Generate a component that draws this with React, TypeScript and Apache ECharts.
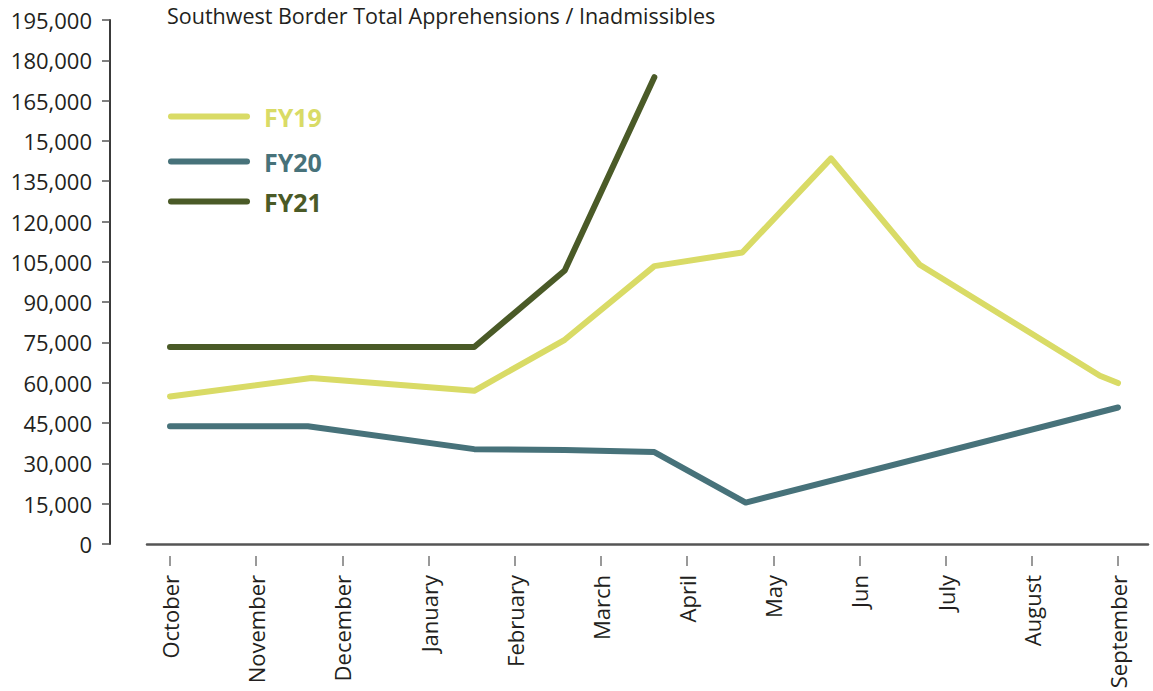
import React, { useEffect, useRef } from "react";
import * as echarts from "echarts";

const months = ["October", "November", "December", "January", "February", "March", "April", "May", "Jun", "July", "August", "September"];
const yTickLabels = ["0", "15,000", "30,000", "45,000", "60,000", "75,000", "90,000", "105,000", "120,000", "135,000", "15,000", "165,000", "180,000", "195,000"];

// month positions (0 = October ... 11 = September) and values
const fy19Pos = [0, 1.64, 3.53, 4.58, 5.62, 6.64, 7.67, 8.7, 10.79, 11];
const fy19 = [54900, 61800, 57000, 76000, 103400, 108500, 143500, 103900, 62600, 59900];

const fy20Pos = [0, 1.6, 3.53, 4.58, 5.62, 6.68, 11];
const fy20 = [43800, 43800, 35300, 35000, 34200, 15400, 50800];

const fy21Pos = [0, 3.53, 4.58, 5.62];
const fy21 = [73300, 73300, 101800, 173700];

const seriesNames = ["FY19", "FY20", "FY21"];
const colors = ["#d9db66", "#47727a", "#4a5a27"];

const FONT = "Open Sans";
const TEXT = "#231f20";
const ICON = "path://M3,0H79A3,3,0,0,1,79,6H3A3,3,0,0,1,3,0Z";

export default function App() {
  const ref = useRef<HTMLDivElement>(null);
  useEffect(() => {
    if (!ref.current) return;
    const chart = echarts.init(ref.current, undefined, { renderer: "svg" });
    const pairs = (xs: number[], ys: number[]) => xs.map((x, i) => [x, ys[i]]);
    const legendTops = [104, 149, 189];
    const option: any = {
      animation: false,
      backgroundColor: "#ffffff",
      title: {
        text: "Southwest Border Total Apprehensions / Inadmissibles",
        left: 167,
        top: 4,
        padding: 0,
        textStyle: { fontFamily: FONT, fontSize: 21.5, fontWeight: "normal", color: TEXT },
      },
      legend: seriesNames.map((n, i) => ({
        data: [n],
        left: 168,
        top: legendTops[i],
        padding: 0,
        icon: ICON,
        itemWidth: 82,
        itemHeight: 6,
        selectedMode: false,
        textStyle: {
          fontFamily: FONT,
          fontSize: 25,
          fontWeight: "bold",
          color: colors[i],
          padding: [0, 0, 0, 9],
        },
      })),
      grid: { left: 147, right: 5, top: 20, bottom: 147, containLabel: false, outerBoundsMode: "none" },
      xAxis: [
        {
          type: "value",
          min: -0.2669,
          max: 11.348,
          axisLine: { show: true, onZero: false, lineStyle: { color: "#555555", width: 2.5 } },
          axisTick: { show: false },
          axisLabel: { show: false },
          splitLine: { show: false },
        },
        {
          type: "value",
          min: -0.2669,
          max: 11.348,
          position: "bottom",
          offset: 12,
          axisLine: { show: false, onZero: false },
          axisTick: {
            show: true,
            length: 10,
            customValues: months.map((_, i) => i),
            lineStyle: { color: "#777777", width: 1.5 },
          },
          axisLabel: {
            show: true,
            rotate: 90,
            margin: 19,
            customValues: months.map((_, i) => i),
            formatter: (v: number) => months[Math.round(v)] ?? "",
            fontFamily: FONT,
            fontSize: 22,
            color: TEXT,
          },
          splitLine: { show: false },
        },
      ],
      yAxis: {
        type: "value",
        min: 0,
        max: 195000,
        interval: 15000,
        offset: 37,
        axisLine: { show: true, onZero: false, lineStyle: { color: "#3a3a3a", width: 2 } },
        axisTick: { show: true, length: 8, lineStyle: { color: "#555555", width: 1.5 } },
        axisLabel: {
          margin: 18,
          fontFamily: FONT,
          fontSize: 22,
          color: TEXT,
          formatter: (v: number) => yTickLabels[Math.round(v / 15000)] ?? "",
        },
        splitLine: { show: false },
      },
      series: [
        { name: "FY19", data: pairs(fy19Pos, fy19) },
        { name: "FY20", data: pairs(fy20Pos, fy20) },
        { name: "FY21", data: pairs(fy21Pos, fy21) },
      ].map((s, i) => ({
        ...s,
        type: "line",
        xAxisIndex: 0,
        symbol: "none",
        color: colors[i],
        itemStyle: { color: colors[i] },
        lineStyle: { color: colors[i], width: 6, cap: "round", join: "round" },
      })),
    };
    chart.setOption(option);
    return () => chart.dispose();
  }, []);
  return <div ref={ref} style={{ position: "absolute", left: 0, top: 0, width: 1153, height: 691 }} />;
}
